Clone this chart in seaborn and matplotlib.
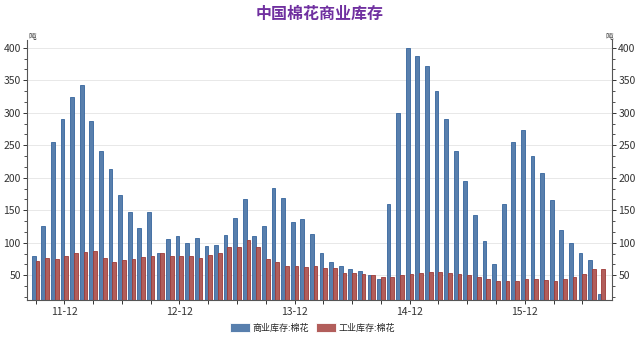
import matplotlib
matplotlib.use("Agg")
import matplotlib.pyplot as plt
import seaborn as sns
import pandas as pd
from matplotlib.ticker import AutoMinorLocator, MultipleLocator

# ---- data ----
months = [d.strftime("%y-%m") for d in pd.date_range("2011-09-01", periods=60, freq="MS")]
series_names = ["商业库存:棉花", "工业库存:棉花"]
commercial = [80, 126, 255, 290, 325, 343, 287, 242, 213, 173,
              147, 123, 147, 85, 106, 110, 100, 107, 95, 96,
              112, 138, 167, 110, 126, 184, 169, 132, 136, 113,
              85, 71, 64, 60, 56, 50, 44, 159, 299, 400,
              388, 372, 333, 291, 241, 195, 143, 103, 68, 160,
              255, 274, 234, 208, 166, 119, 99, 85, 73, 22]
industrial = [72, 76, 75, 79, 85, 86, 87, 76, 70, 73,
              75, 78, 79, 84, 80, 79, 80, 76, 82, 84,
              93, 93, 104, 94, 75, 71, 64, 65, 63, 65,
              62, 62, 54, 54, 52, 50, 47, 48, 50, 52,
              54, 55, 55, 53, 52, 50, 48, 45, 42, 41,
              42, 44, 45, 43, 42, 44, 48, 52, 59, 60]
y_ticks = [50, 100, 150, 200, 250, 300, 350, 400]
title = "中国棉花商业库存"
unit = "吨"

fills = ["#4A7EBB", "#C0504D"]
edges = ["#35659E", "#9E3B38"]

sns.set_theme(style="white")
plt.rcParams["font.family"] = ["Noto Sans CJK SC", "DejaVu Sans"]

df = pd.DataFrame({
    "month": months * 2,
    "value": commercial + industrial,
    "series": [series_names[0]] * len(months) + [series_names[1]] * len(months),
})

fig = plt.figure(figsize=(6.4, 3.38), dpi=100)
fig.patch.set_facecolor("white")
ax = fig.add_axes([27 / 640, 38 / 338, (612 - 27) / 640, (300 - 40) / 338])

sns.barplot(data=df, x="month", y="value", hue="series", hue_order=series_names,
            order=months, palette=fills, width=0.78, ax=ax, linewidth=0.6)
for cont, ec in zip(ax.containers, edges):
    for p in cont:
        p.set_edgecolor(ec)

ax.set_xlim(-0.9, 60.1)
ax.set_ylim(12, 412)
ax.set_xlabel("")
ax.set_ylabel("")

ax.set_yticks(y_ticks)
ax.yaxis.set_minor_locator(AutoMinorLocator(3))
ax.yaxis.grid(True, which="major", color="#E8E8E8", lw=0.7)
ax.set_axisbelow(True)

tick_pos = list(range(0, len(months), 3))
ax.set_xticks(tick_pos)
ax.set_xticklabels([months[i] if months[i].endswith("-12") else "" for i in tick_pos])

for s in ["left", "right", "bottom"]:
    ax.spines[s].set_visible(True)
    ax.spines[s].set_color("#555555")
    ax.spines[s].set_linewidth(0.8)
ax.spines["top"].set_visible(False)

ax.tick_params(axis="y", which="both", left=True, right=True, labelleft=True,
               labelright=True, direction="out", labelsize=7.5, colors="#333333", pad=1.5)
ax.tick_params(axis="y", which="major", length=3, width=0.7)
ax.tick_params(axis="y", which="minor", length=2, width=0.6)
ax.tick_params(axis="x", which="major", bottom=True, direction="out", length=3,
               width=0.7, labelsize=7.5, colors="#333333", pad=2)

handles, labels = ax.get_legend_handles_labels()
ax.get_legend().remove()
fig.legend(handles, labels, loc="center", bbox_to_anchor=(0.488, 0.03), ncol=2,
           frameon=False, fontsize=6.5, handlelength=2.2, handleheight=1.2,
           columnspacing=0.8, handletextpad=0.3)

fig.text(0.5, 1 - 14 / 338, title, ha="center", va="center", fontsize=11.5,
         fontweight="bold", color="#7030A0")
fig.text(28 / 640, 1 - 37 / 338, unit, ha="left", va="center", fontsize=5.5, color="#333333")
fig.text(605 / 640, 1 - 37 / 338, unit, ha="left", va="center", fontsize=5.5, color="#333333")

fig.savefig("out.png", dpi=100, facecolor="white")
